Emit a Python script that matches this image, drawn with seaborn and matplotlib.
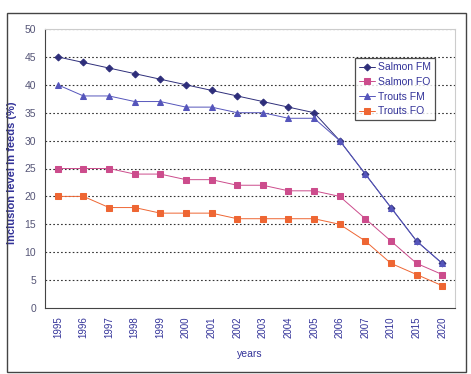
import matplotlib
matplotlib.use("Agg")
import matplotlib.pyplot as plt
import seaborn as sns
import pandas as pd
import numpy as np
from matplotlib.patches import Rectangle

years = ["1995", "1996", "1997", "1998", "1999", "2000", "2001", "2002",
         "2003", "2004", "2005", "2006", "2007", "2010", "2015", "2020"]
salmon_fm = [45, 44, 43, 42, 41, 40, 39, 38, 37, 36, 35, 30, 24, 18, 12, 8]
salmon_fo = [25, 25, 25, 24, 24, 23, 23, 22, 22, 21, 21, 20, 16, 12, 8, 6]
trouts_fm = [40, 38, 38, 37, 37, 36, 36, 35, 35, 34, 34, 30, 24, 18, 12, 8]
trouts_fo = [20, 20, 18, 18, 17, 17, 17, 16, 16, 16, 16, 15, 12, 8, 6, 4]
series_names = ["Salmon FM", "Salmon FO", "Trouts FM", "Trouts FO"]

rows = []
for name, vals in zip(series_names, [salmon_fm, salmon_fo, trouts_fm, trouts_fo]):
    for y, v in zip(years, vals):
        rows.append({"year": y, "value": v, "series": name})
df = pd.DataFrame(rows)

sns.set_style("white")
plt.rcParams['font.family'] = ['Liberation Sans', 'DejaVu Sans']

fig = plt.figure(figsize=(4.71, 3.74), dpi=100)
ax = fig.add_axes([45/471, 1-308/374, (455-45)/471, (308-29)/374])

palette = {"Salmon FM": "#2e2e7a", "Salmon FO": "#cc4c8c",
           "Trouts FM": "#5555bb", "Trouts FO": "#ee6633"}
markers = {"Salmon FM": "D", "Salmon FO": "s", "Trouts FM": "^", "Trouts FO": "s"}
sizes = {"Salmon FM": 3.5, "Salmon FO": 4.5, "Trouts FM": 4.5, "Trouts FO": 4.5}

for name in series_names:
    sub = df[df.series == name]
    sns.lineplot(data=sub, x="year", y="value", ax=ax, color=palette[name],
                 marker=markers[name], markersize=sizes[name], markeredgecolor=palette[name],
                 linewidth=0.7, label=name, sort=False)

ax.set_ylim(0, 50)
ax.set_xlim(-0.5, len(years) - 0.5)
ax.set_yticks(range(0, 51, 5))
ax.set_xticks(np.arange(len(years)) + 0.5, minor=True)
for yv in range(5, 51, 5):
    ax.axhline(yv, color="#333333", linestyle=(0, (1.5, 2)), linewidth=0.8, zorder=0)

ax.tick_params(axis="x", which="major", labelrotation=90, labelsize=7, labelcolor="#333399",
               length=0, pad=6)
ax.tick_params(axis="x", which="minor", length=3, direction="inout", color="#444444")
ax.tick_params(axis="y", labelsize=7.5, labelcolor="#555577", length=3, direction="out")
ax.set_xlabel("years", fontsize=7.5, color="#333399", labelpad=8)
ax.set_ylabel("Inclusion level in feeds (%)", fontsize=8, color="#333399", fontweight="bold")
ax.yaxis.set_label_coords(-0.068, 0.484)

for side in ["top", "right"]:
    ax.spines[side].set_color("#cccccc")
    ax.spines[side].set_linewidth(0.8)
for side in ["left", "bottom"]:
    ax.spines[side].set_color("#444444")
    ax.spines[side].set_linewidth(0.8)

leg = ax.legend(loc="upper right", bbox_to_anchor=(0.951, 0.896), fontsize=7.5, frameon=True,
                fancybox=False, edgecolor="#222222", handlelength=1.5, borderpad=0.4,
                labelspacing=0.45, handletextpad=0.3, borderaxespad=0)
for t in leg.get_texts():
    t.set_color("#333399")
leg.get_frame().set_linewidth(0.9)

fig.patches.append(Rectangle((7/471, 1-372/374), (466-7)/471, (372-13)/374,
                             transform=fig.transFigure, fill=False,
                             edgecolor="#444444", linewidth=1.0))

fig.savefig("out.png", dpi=100)
